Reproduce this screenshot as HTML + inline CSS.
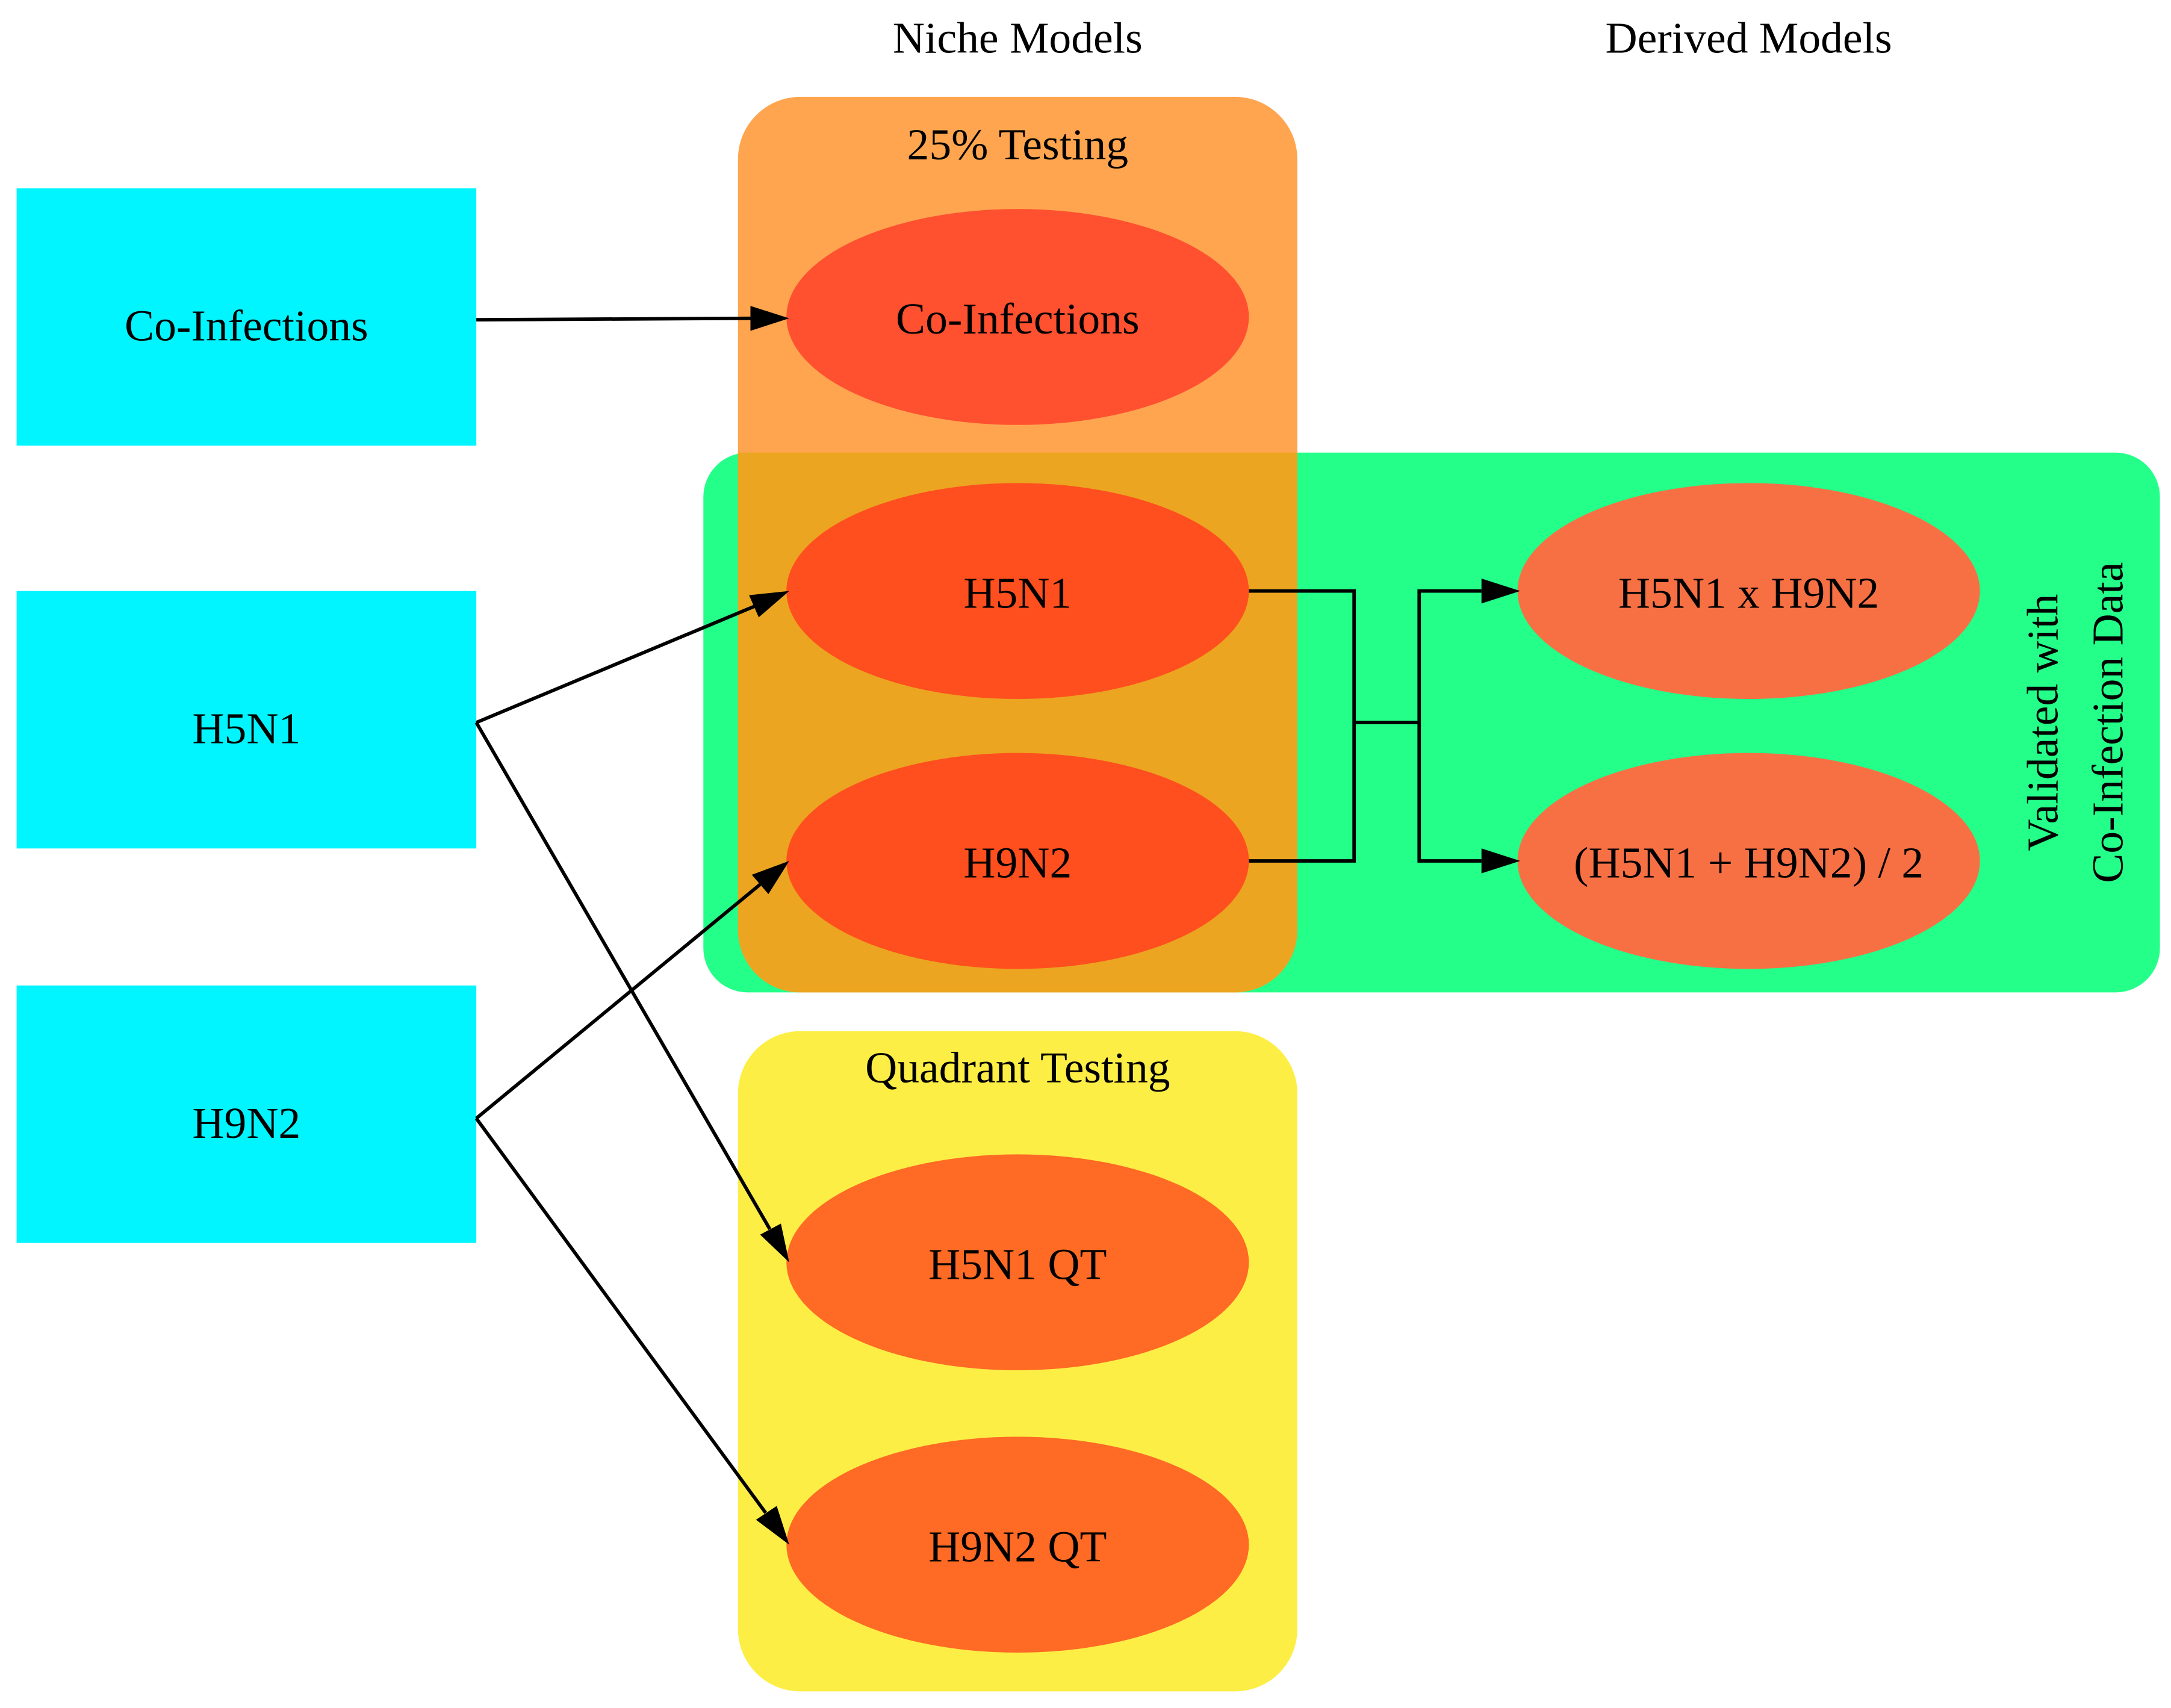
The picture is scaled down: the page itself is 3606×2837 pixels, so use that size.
<!DOCTYPE html>
<html><head><meta charset="utf-8"><style>html,body{margin:0;padding:0;background:#fff}svg{display:block}</style></head>
<body>
<svg width="3606" height="2837" viewBox="0 0 1568 1234" preserveAspectRatio="none" xmlns="http://www.w3.org/2000/svg" font-family="Liberation Serif, serif" font-size="32">
<defs>
<marker id="a" markerWidth="10" markerHeight="8" refX="10" refY="4" orient="auto" markerUnits="userSpaceOnUse" viewBox="0 0 10 8">
</marker>
</defs>
<rect width="1568" height="1234" fill="#fff"/>
<text x="735" y="38" text-anchor="middle">Niche Models</text>
<text x="1263" y="38" text-anchor="middle">Derived Models</text>
<!-- clusters -->
<rect x="508" y="327" width="1052" height="390" rx="32" fill="#24ff89"/>
<rect x="533" y="70" width="404" height="647" rx="45" fill="#ffa54f"/>
<path d="M533 327 H937 V672 A45 45 0 0 1 892 717 H578 A45 45 0 0 1 533 672 Z" fill="#eba520"/>
<rect x="533" y="745" width="404" height="477" rx="45" fill="#fdee45"/>
<text x="735" y="115" text-anchor="middle">25% Testing</text>
<text x="735" y="782" text-anchor="middle">Quadrant Testing</text>
<text transform="translate(1486,522) rotate(-90)" text-anchor="middle">Validated with</text>
<text transform="translate(1533,522) rotate(-90)" text-anchor="middle">Co-Infection Data</text>
<!-- left rects -->
<rect x="12" y="136" width="332" height="186" fill="#00f5ff"/>
<rect x="12" y="427" width="332" height="186" fill="#00f5ff"/>
<rect x="12" y="712" width="332" height="186" fill="#00f5ff"/>
<text x="178" y="246" text-anchor="middle">Co-Infections</text>
<text x="178" y="537" text-anchor="middle">H5N1</text>
<text x="178" y="822" text-anchor="middle">H9N2</text>
<!-- ellipses -->
<ellipse cx="735" cy="229" rx="167" ry="78" fill="#ff5030"/>
<ellipse cx="735" cy="427" rx="167" ry="78" fill="#ff4f1e"/>
<ellipse cx="735" cy="622" rx="167" ry="78" fill="#ff4f1e"/>
<ellipse cx="735" cy="912" rx="167" ry="78" fill="#ff6a25"/>
<ellipse cx="735" cy="1116" rx="167" ry="78" fill="#ff6a25"/>
<ellipse cx="1263" cy="427" rx="167" ry="78" fill="#f77044"/>
<ellipse cx="1263" cy="622" rx="167" ry="78" fill="#f77044"/>
<text x="735" y="241" text-anchor="middle">Co-Infections</text>
<text x="735" y="439" text-anchor="middle">H5N1</text>
<text x="735" y="634" text-anchor="middle">H9N2</text>
<text x="735" y="924" text-anchor="middle">H5N1 QT</text>
<text x="735" y="1128" text-anchor="middle">H9N2 QT</text>
<text x="1263" y="439" text-anchor="middle">H5N1 x H9N2</text>
<text x="1263" y="634" text-anchor="middle">(H5N1 + H9N2) / 2</text>
<!-- edges -->
<g stroke="#000" stroke-width="2.5" fill="none">
<path d="M344 231 L542 230"/>
<path d="M344 522 L545 438"/>
<path d="M344 522 L556 888"/>
<path d="M344 808 L549 639"/>
<path d="M344 808 L553 1093"/>
<path d="M902 427 H978 V622 H902"/>
<path d="M978 522 H1025 V427 H1070"/>
<path d="M1025 522 V622 H1070"/>
</g>
<g fill="#000">
<polygon points="570,230 542,221 542,239"/>
<polygon points="570,427 541,430 548,446"/>
<polygon points="570,912 549,892 564,884"/>
<polygon points="570,622 543,632 555,646"/>
<polygon points="570,1116 546,1098 561,1088"/>
<polygon points="1098,427 1070,418 1070,436"/>
<polygon points="1098,622 1070,613 1070,631"/>
</g>
</svg>
</body></html>
